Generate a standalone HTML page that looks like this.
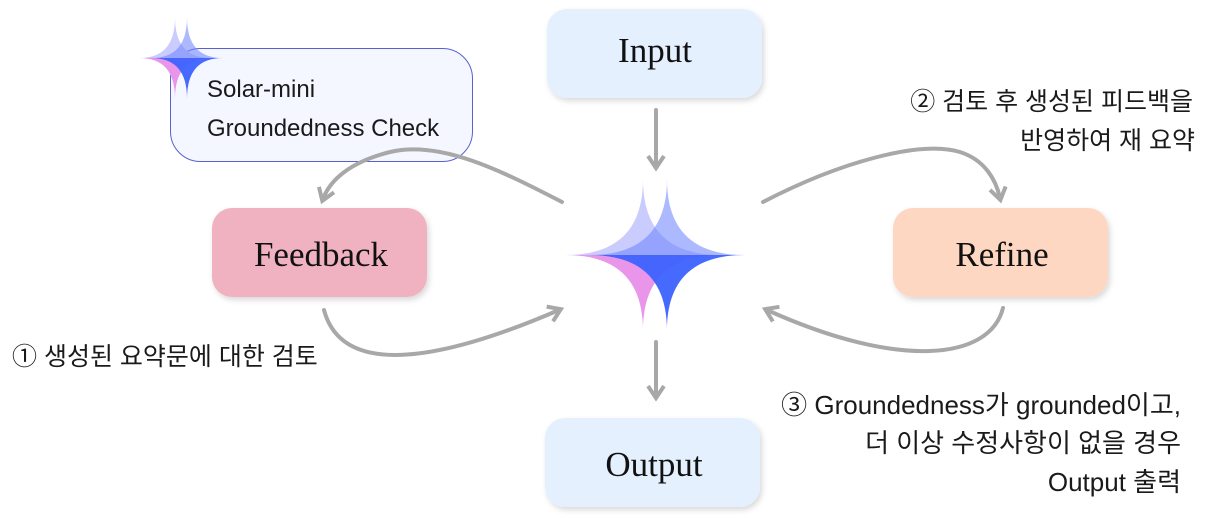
<!DOCTYPE html>
<html><head><meta charset="utf-8"><style>
body{margin:0;width:1212px;height:518px;background:#fff;overflow:hidden}
svg{display:block}
.k{font-family:"Liberation Sans","Noto Sans CJK KR",sans-serif;font-size:25px;fill:#1a1a1a}
.n{font-family:"Liberation Serif","DejaVu Serif",serif;font-size:35px;fill:#111;text-anchor:middle}
</style></head><body>
<svg width="1212" height="518" viewBox="0 0 1212 518" xmlns="http://www.w3.org/2000/svg">
<defs>
<filter id="sh" x="-10%" y="-10%" width="125%" height="130%"><feDropShadow dx="2" dy="3" stdDeviation="3" flood-color="#000" flood-opacity="0.15"/></filter>
<marker id="ah" viewBox="0 0 10 10" refX="6" refY="5" markerWidth="5" markerHeight="5" orient="auto"><path d="M1,1 L7,5 L1,9" fill="none" stroke="#a8a8a8" stroke-width="2"/></marker>
</defs>
<rect x="170.5" y="48.5" width="302" height="113" rx="30" fill="#f4f7ff" stroke="#5a60d0" stroke-width="1"/>
<text class="k" x="207" y="97" style="font-size:24px">Solar-mini</text>
<text class="k" x="207" y="136" style="font-size:24px">Groundedness Check</text>
<rect x="547" y="9" width="215" height="89" rx="20" fill="#e4f0fe" filter="url(#sh)"/>
<text class="n" x="655" y="62">Input</text>
<rect x="212" y="208" width="215" height="89" rx="20" fill="#f0b2c0" filter="url(#sh)"/>
<text class="n" x="321" y="266">Feedback</text>
<rect x="893" y="208" width="215" height="89" rx="20" fill="#fed7c3" filter="url(#sh)"/>
<text class="n" x="1002" y="266">Refine</text>
<rect x="545" y="418" width="215" height="89" rx="20" fill="#e4f0fe" filter="url(#sh)"/>
<text class="n" x="654" y="476">Output</text>
<g fill="none" stroke="#a8a8a8" stroke-width="4" stroke-linecap="round">
<path d="M656 110 L656 166" marker-end="url(#ah)"/>
<path d="M656 342 L656 396" marker-end="url(#ah)"/>
<path d="M562 202 C500 170 440 140 390 152 C350 162 330 180 323 199" marker-end="url(#ah)"/>
<path d="M324 310 C340 370 420 370 559 310" marker-end="url(#ah)"/>
<path d="M763 202 C840 162 920 140 960 152 C985 160 996 180 1000 198" marker-end="url(#ah)"/>
<path d="M1003 308 C990 360 900 370 767 310" marker-end="url(#ah)"/>
</g>
<g>
<path d="M565 255 C617 255 643 230 643 179 C643 230 669 255 721 255 Z" fill="#c9ccfd"/>
<path d="M565 255 C617 255 643 280 643 331 C643 280 669 255 721 255 Z" fill="#e895ea"/>
<path d="M589 255 C641 255 667 230 667 179 C667 230 693 255 745 255 Z" fill="#6a80ff" fill-opacity="0.55"/>
<path d="M589 255 C641 255 667 280 667 331 C667 280 693 255 745 255 Z" fill="#3d62fe" fill-opacity="0.95"/>
</g>
<g>
<path d="M139 58 C163 58 175 45 175 17 C175 45 187 58 211 58 Z" fill="#c9ccfd"/>
<path d="M139 58 C163 58 175 71 175 99 C175 71 187 58 211 58 Z" fill="#e895ea"/>
<path d="M151 58 C175 58 187 45 187 17 C187 45 199 58 223 58 Z" fill="#6a80ff" fill-opacity="0.55"/>
<path d="M151 58 C175 58 187 71 187 99 C187 71 199 58 223 58 Z" fill="#3d62fe" fill-opacity="0.95"/>
</g>
<text class="k" x="12" y="365">① 생성된 요약문에 대한 검토</text>
<text class="k" x="1193" y="110" text-anchor="end">② 검토 후 생성된 피드백을</text>
<text class="k" x="1195" y="149" text-anchor="end">반영하여 재 요약</text>
<text class="k" x="1181" y="414" text-anchor="end" style="font-size:26px">③ Groundedness가 grounded이고,</text>
<text class="k" x="1181" y="452" text-anchor="end" style="font-size:26px">더 이상 수정사항이 없을 경우</text>
<text class="k" x="1181" y="491" text-anchor="end" style="font-size:26px">Output 출력</text>
</svg>
</body></html>
